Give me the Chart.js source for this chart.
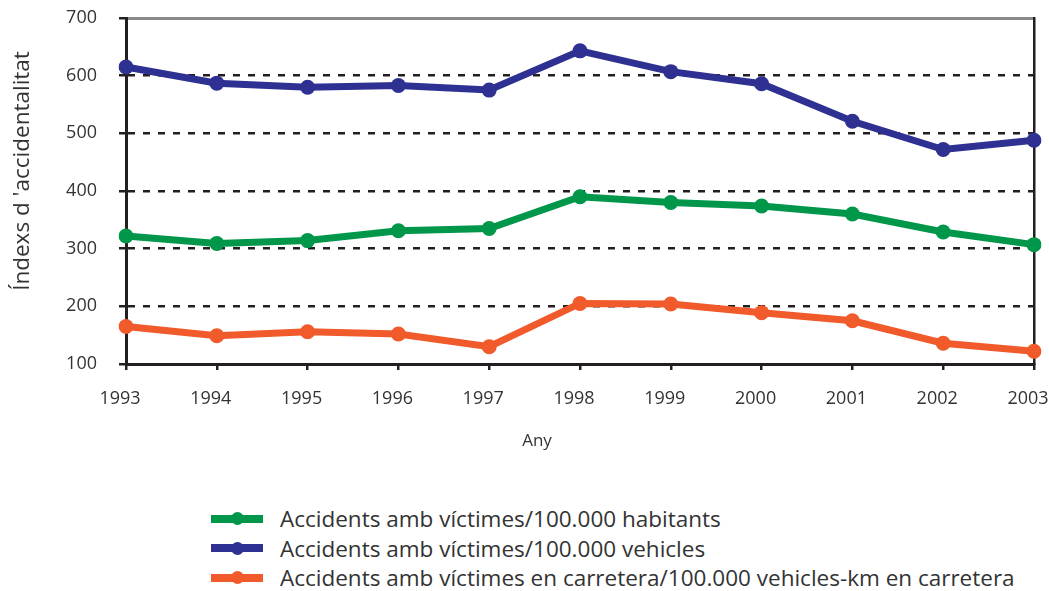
<!DOCTYPE html>
<html><head><meta charset="utf-8">
<script src="https://cdn.jsdelivr.net/npm/chart.js@4.4.0/dist/chart.umd.min.js"></script>
<style>
html,body{margin:0;padding:0;background:#fff;}
#wrap{position:relative;width:1049px;height:591px;overflow:hidden;}
#c{position:absolute;left:0;top:0;}
#legend{position:absolute;left:211px;top:504px;font-family:"Open Sans",sans-serif;font-size:22.5px;color:#333;}
.item{height:29.5px;display:flex;align-items:center;white-space:nowrap;}
.sw{position:relative;width:52px;height:8px;margin-right:17px;flex:none;}
.sw .dot{position:absolute;left:19.5px;top:-2.5px;width:13px;height:13px;border-radius:50%;}
</style></head>
<body><div id="wrap"><canvas id="c" width="1049" height="460"></canvas><div id="legend"></div></div>
<script>
const years = ['1993','1994','1995','1996','1997','1998','1999','2000','2001','2002','2003'];
const habitants = [322,309,314,331,335,390,380,374,360,329,307];
const vehicles = [615,587,580,583,575,643,607,586,521,472,488];
const carretera = [165,149,156,152,130,205,204,189,175,136,122];
const seriesLabels = ['Accidents amb víctimes/100.000 habitants','Accidents amb víctimes/100.000 vehicles','Accidents amb víctimes en carretera/100.000 vehicles-km en carretera'];
const seriesColors = ['#00974A','#2E3192','#F15A2B'];
const yTicks = [100,200,300,400,500,600,700];
const yTitle = 'Índexs d \'accidentalitat';
const xTitle = 'Any';

const FONT = '"Open Sans", sans-serif';
const INK = '#231F20';
const TXT = '#333333';

function ds(i, data){
  return {label: seriesLabels[i], data: data, borderColor: seriesColors[i], backgroundColor: seriesColors[i],
    borderWidth: 7, pointRadius: 7.5, pointHoverRadius: 7.5, pointBorderWidth: 0, tension: 0};
}
function shiftTitle(scale, dx, dy){
  const orig = Chart.Scale.prototype.drawTitle;
  scale.drawTitle = function(){ const c=this.ctx; c.save(); c.translate(dx,dy); orig.call(this); c.restore(); };
}

const chart = new Chart(document.getElementById('c'), {
  type: 'line',
  data: { labels: years, datasets: [ds(0,habitants), ds(1,vehicles), ds(2,carretera)] },
  options: {
    responsive: false, animation: false,
    layout: { padding: { top: 18, left: 0, right: 0, bottom: 0 } },
    plugins: { legend: { display: false }, tooltip: { enabled: false } },
    scales: {
      x: {
        type: 'category', offset: false,
        grid: { display: true, drawOnChartArea: false, drawTicks: true, tickLength: 6, color: INK, lineWidth: 2.5 },
        border: { display: true, color: INK, width: 3 },
        ticks: { font: { family: FONT, size: 18 }, color: TXT, padding: 18, labelOffset: -6, maxRotation: 0, autoSkip: false },
        title: { display: true, text: xTitle, font: { family: FONT, size: 17 }, color: TXT, padding: { top: 0, bottom: 9 } },
        afterFit: s => { s.height = 96; s.paddingLeft = 0; s.paddingRight = 0; shiftTitle(s, -43, 0); }
      },
      x2: {
        type: 'category', position: 'top', offset: false,
        grid: { display: false, drawTicks: false }, ticks: { display: false },
        border: { display: true, color: '#8a8a8a', width: 3 },
        afterFit: s => { s.height = 0; s.paddingLeft = 0; s.paddingRight = 0; s.paddingTop = 0; s.paddingBottom = 0; }
      },
      y: {
        min: 100, max: 700,
        afterBuildTicks: s => { s.ticks = yTicks.map(v => ({ value: v })); },
        grid: { color: INK, lineWidth: 2.5, tickLength: 7, tickBorderDash: [] },
        border: { display: true, color: INK, width: 3, dash: [7, 8] },
        ticks: { font: { family: FONT, size: 18 }, color: TXT, padding: 22 },
        title: { display: true, text: yTitle, font: { family: FONT, size: 22.5 }, color: TXT, padding: { top: 9, bottom: 0 } },
        afterFit: s => { s.width = 126; s.paddingTop = 0; s.paddingBottom = 0; shiftTitle(s, 0, -20); }
      },
      y2: {
        position: 'right', min: 100, max: 700,
        grid: { display: false, drawTicks: false }, ticks: { display: false },
        border: { display: true, color: INK, width: 2.5 },
        afterFit: s => { s.width = 15; s.paddingTop = 0; s.paddingBottom = 0; }
      }
    }
  }
});

const legend = document.getElementById('legend');
chart.data.datasets.forEach(d => {
  const it = document.createElement('div'); it.className = 'item';
  const sw = document.createElement('div'); sw.className = 'sw'; sw.style.background = d.borderColor;
  const dot = document.createElement('div'); dot.className = 'dot'; dot.style.background = d.borderColor;
  sw.appendChild(dot);
  const tx = document.createElement('span'); tx.textContent = d.label;
  it.appendChild(sw); it.appendChild(tx); legend.appendChild(it);
});
</script>
</body></html>
